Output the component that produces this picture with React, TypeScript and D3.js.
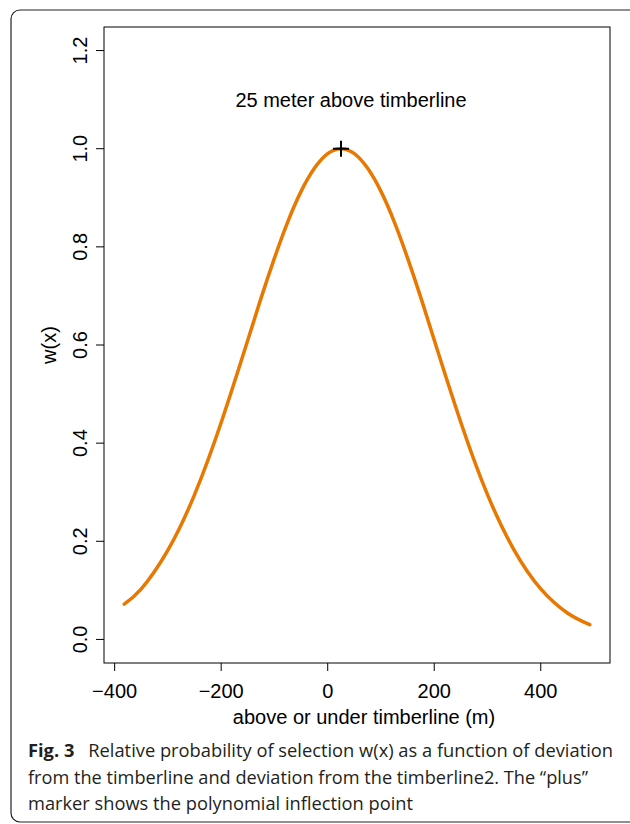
import React, { useEffect, useRef } from 'react'
import * as d3 from 'd3'

// curve: deviation from timberline (m) -> w(x)
const xValues = [-382, -350, -300, -250, -200, -150, -125, -100, -75, -50, -25, 0, 25, 50, 75, 100, 125, 150, 175, 200, 250, 300, 350, 400, 450, 492]
const wValues = [0.072, 0.103, 0.182, 0.295, 0.442, 0.61, 0.696, 0.777, 0.851, 0.913, 0.96, 0.99, 1.0, 0.99, 0.96, 0.913, 0.851, 0.777, 0.696, 0.61, 0.442, 0.295, 0.182, 0.103, 0.054, 0.03]

const xTicks = [-400, -200, 0, 200, 400]
const yTicks = [0, 0.2, 0.4, 0.6, 0.8, 1.0, 1.2]

const markerX = [25]
const markerY = [1.0]

const noteText = '25 meter above timberline'
const xTitle = 'above or under timberline (m)'
const yTitle = 'w(x)'
const captionLines = [
    { bold: 'Fig. 3', text: 'Relative probability of selection w(x) as a function of deviation' },
    { bold: '', text: 'from the timberline and deviation from the timberline2. The \u201cplus\u201d' },
    { bold: '', text: 'marker shows the polynomial inflection point' },
]

function App() {
    const ref = useRef<SVGSVGElement>(null)

    useEffect(() => {
        const svg = d3.select(ref.current)
        svg.selectAll('*').remove()

        const left = 104, right = 610, top = 27, bottom = 663
        const font = '"Liberation Sans", Arial, sans-serif'

        // R style: limits padded by 4%
        const x = d3.scaleLinear().domain([-420, 530]).range([left, right])
        const y = d3.scaleLinear().domain([-0.048, 1.248]).range([bottom, top])

        // outer figure frame
        svg.append('rect')
            .attr('x', 11).attr('y', 10)
            .attr('width', 640).attr('height', 812)
            .attr('rx', 9)
            .attr('fill', 'none')
            .attr('stroke', '#222')
            .attr('stroke-width', 1.2)

        // plot box
        svg.append('rect')
            .attr('x', left).attr('y', top)
            .attr('width', right - left).attr('height', bottom - top)
            .attr('fill', 'none')
            .attr('stroke', '#000')
            .attr('stroke-width', 1)

        // x axis
        const gx = svg.append('g')
        gx.selectAll('line').data(xTicks).enter().append('line')
            .attr('x1', d => x(d)).attr('x2', d => x(d))
            .attr('y1', bottom).attr('y2', bottom + 8)
            .attr('stroke', '#000')
        gx.selectAll('text').data(xTicks).enter().append('text')
            .attr('x', d => x(d)).attr('y', 698)
            .attr('text-anchor', 'middle')
            .attr('font-family', font).attr('font-size', 20)
            .text(d => d < 0 ? '\u2212' + Math.abs(d) : String(d))

        // y axis
        const gy = svg.append('g')
        gy.selectAll('line').data(yTicks).enter().append('line')
            .attr('x1', left - 8).attr('x2', left)
            .attr('y1', d => y(d)).attr('y2', d => y(d))
            .attr('stroke', '#000')
        gy.selectAll('text').data(yTicks).enter().append('text')
            .attr('transform', d => 'translate(87,' + y(d) + ') rotate(-90)')
            .attr('text-anchor', 'middle')
            .attr('font-family', font).attr('font-size', 20)
            .text(d => d.toFixed(1))

        svg.append('text')
            .attr('x', (left + right) / 2 + 7).attr('y', 724)
            .attr('text-anchor', 'middle')
            .attr('font-family', font).attr('font-size', 20)
            .text(xTitle)

        svg.append('text')
            .attr('transform', 'translate(56,' + ((top + bottom) / 2) + ') rotate(-90)')
            .attr('text-anchor', 'middle')
            .attr('font-family', font).attr('font-size', 20)
            .text(yTitle)

        // curve
        const pts = xValues.map((v, i) => [v, wValues[i]] as [number, number])
        const line = d3.line<[number, number]>()
            .x(d => x(d[0]))
            .y(d => y(d[1]))
            .curve(d3.curveNatural)
        svg.append('path')
            .attr('d', line(pts))
            .attr('fill', 'none')
            .attr('stroke', '#e87800')
            .attr('stroke-width', 3.5)
            .attr('stroke-linecap', 'round')

        // plus marker at the inflection point
        markerX.forEach((mx, i) => {
            const cx = x(mx), cy = y(markerY[i])
            svg.append('path')
                .attr('d', `M${cx - 8},${cy}H${cx + 8}M${cx},${cy - 8}V${cy + 8}`)
                .attr('stroke', '#000')
                .attr('stroke-width', 2)
        })

        svg.append('text')
            .attr('x', 351).attr('y', y(1.1) + 7)
            .attr('text-anchor', 'middle')
            .attr('font-family', font).attr('font-size', 20)
            .text(noteText)

        // caption
        const widths = [585, 560, 385]
        const baselines = [757, 784, 810]
        captionLines.forEach((c, i) => {
            const t = svg.append('text')
                .attr('x', 28).attr('y', baselines[i])
                .attr('font-family', '"Open Sans", Lato, sans-serif')
                .attr('font-size', 18)
                .attr('fill', '#231f20')
                .attr('textLength', widths[i])
                .attr('lengthAdjust', 'spacingAndGlyphs')
            if (c.bold) {
                t.append('tspan').attr('font-weight', 'bold').text(c.bold + '\u2002 ')
            }
            t.append('tspan').text(c.text)
        })
    }, [])

    return (
        <svg ref={ref} width={630} height={824}
            style={{ position: 'absolute', left: 0, top: 0, background: '#fff' }} />
    )
}

export default App
